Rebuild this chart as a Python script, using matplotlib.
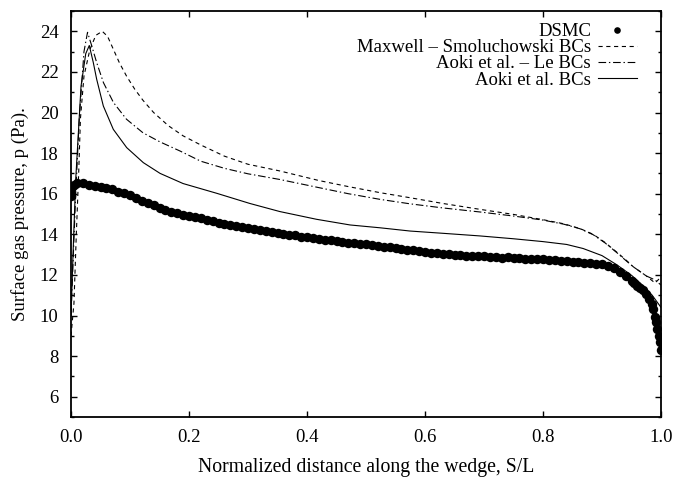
import numpy as np
import matplotlib
matplotlib.use("Agg")
import matplotlib.pyplot as plt
from matplotlib.ticker import MultipleLocator

plt.rcParams['font.family'] = ['Liberation Serif', 'DejaVu Serif']
plt.rcParams['lines.scale_dashes'] = False
fs = 13.5

# DSMC surface pressure
dsmc_x = np.concatenate([[0.0, 0.0, 0.0, 0.002, 0.005],
                         np.round(np.arange(1, 96) * 0.01, 2),
                         [0.955, 0.96, 0.965, 0.97, 0.975, 0.98, 0.984, 0.987,
                          0.99, 0.992, 0.994, 0.996, 0.998, 1.0]])
dsmc_p = [16.3, 16.0, 15.9, 16.35, 16.45,
          16.55, 16.52, 16.44, 16.40, 16.33, 16.28, 16.21, 16.10, 16.04, 15.93,
          15.80, 15.66, 15.56, 15.42, 15.32, 15.22, 15.12, 15.06, 14.97, 14.91,
          14.84, 14.79, 14.70, 14.65, 14.56, 14.53, 14.45, 14.41, 14.34, 14.31,
          14.24, 14.22, 14.15, 14.12, 14.05, 14.03, 13.97, 13.95, 13.89, 13.87,
          13.81, 13.79, 13.74, 13.72, 13.66, 13.64, 13.59, 13.57, 13.52, 13.50,
          13.45, 13.43, 13.38, 13.36, 13.31, 13.28, 13.23, 13.21, 13.16, 13.14,
          13.09, 13.08, 13.04, 13.03, 12.99, 12.99, 12.95, 12.95, 12.92, 12.92,
          12.89, 12.89, 12.85, 12.86, 12.82, 12.83, 12.79, 12.80, 12.76, 12.77,
          12.73, 12.73, 12.70, 12.70, 12.66, 12.66, 12.61, 12.61, 12.56, 12.54,
          12.45, 12.32, 12.15, 11.95, 11.72,
          11.58, 11.45, 11.36, 11.27, 11.07, 10.82, 10.56, 10.30,
          9.95, 9.70, 9.35, 9.00, 8.70, 8.30]

# Maxwell - Smoluchowski BCs
mx_x = [0.0, 0.005, 0.009, 0.013, 0.016, 0.022, 0.032, 0.042, 0.053, 0.062,
        0.072, 0.082, 0.094, 0.108, 0.122, 0.14, 0.165, 0.19, 0.22, 0.26,
        0.30, 0.354, 0.42, 0.47, 0.524, 0.575, 0.63, 0.693, 0.75, 0.80,
        0.835, 0.863, 0.885, 0.905, 0.925, 0.94, 0.953, 0.975, 0.99, 1.0]
mx_p = [9.0, 10.6, 14.0, 17.0, 19.7, 21.8, 23.1, 23.8, 24.0, 23.75,
        23.1, 22.45, 21.8, 21.15, 20.6, 20.0, 19.35, 18.85, 18.4, 17.85,
        17.45, 17.12, 16.65, 16.35, 16.05, 15.8, 15.52, 15.23, 14.98, 14.72,
        14.52, 14.28, 14.0, 13.6, 13.12, 12.75, 12.4, 11.95, 11.6, 11.9]

# Aoki et al. - Le BCs
al_x = [0.0, 0.004, 0.008, 0.014, 0.022, 0.028, 0.035, 0.0435, 0.055, 0.072,
        0.094, 0.122, 0.151, 0.185, 0.22, 0.26, 0.30, 0.354, 0.42, 0.47,
        0.524, 0.575, 0.63, 0.693, 0.75, 0.80, 0.835, 0.863, 0.885, 0.905,
        0.925, 0.94, 0.953, 0.975, 0.99, 1.0]
al_p = [10.0, 13.0, 16.0, 19.7, 23.0, 23.95, 23.3, 22.46, 21.47, 20.49,
        19.67, 19.0, 18.55, 18.1, 17.6, 17.25, 16.98, 16.7, 16.3, 16.0,
        15.72, 15.5, 15.3, 15.1, 14.9, 14.7, 14.5, 14.27, 13.98, 13.58,
        13.1, 12.72, 12.4, 11.95, 11.75, 11.5]

# Aoki et al. BCs
ak_x = [0.0, 0.004, 0.008, 0.017, 0.025, 0.031, 0.0378, 0.0435, 0.0548, 0.0717,
        0.0944, 0.1226, 0.151, 0.19, 0.247, 0.303, 0.354, 0.416, 0.473, 0.524,
        0.575, 0.63, 0.693, 0.75, 0.80, 0.84, 0.868, 0.90, 0.925, 0.95,
        0.964, 0.985, 1.0]
ak_p = [10.0, 13.5, 16.7, 21.3, 22.9, 23.3, 22.46, 21.64, 20.32, 19.17,
        18.27, 17.53, 17.0, 16.5, 16.02, 15.52, 15.12, 14.74, 14.46, 14.32,
        14.16, 14.05, 13.92, 13.78, 13.64, 13.5, 13.3, 12.95, 12.5, 11.98,
        11.62, 11.0, 10.4]

fig = plt.figure(figsize=(6.77, 4.79), dpi=100)
ax = fig.add_axes([71 / 677, 62 / 479, 590 / 677, 406 / 479])

ax.plot(dsmc_x, dsmc_p, 'o', color='black', markersize=6.8, markeredgewidth=0,
        label='DSMC', zorder=3)
ax.plot(mx_x, mx_p, color='black', lw=0.8, linestyle=(0, (3.0, 2.6)),
        label='Maxwell \u2013 Smoluchowski BCs')
ax.plot(al_x, al_p, color='black', lw=0.8, linestyle=(0, (5.5, 2.0, 1.0, 2.0)),
        label='Aoki et al. \u2013 Le BCs')
ax.plot(ak_x, ak_p, color='black', lw=0.8, linestyle='-',
        label='Aoki et al. BCs')

ax.set_xlim(0, 1)
ax.set_ylim(5, 25)
ax.xaxis.set_major_locator(MultipleLocator(0.2))
ax.yaxis.set_minor_locator(MultipleLocator(1))
ax.set_yticks(np.arange(6, 25, 2))
ax.xaxis.set_major_formatter(plt.FuncFormatter(lambda v, p: '%.1f' % v))
ax.tick_params(which='both', direction='in', top=True, right=True,
               labelsize=fs, width=1.0)
ax.tick_params(which='major', length=4.5, pad=9)
ax.tick_params(which='minor', length=2.2)
for s in ax.spines.values():
    s.set_linewidth(1.3)

ax.set_xlabel('Normalized distance along the wedge, S/L', fontsize=14.2, labelpad=8)
ax.set_ylabel('Surface gas pressure, p (Pa).', fontsize=fs, labelpad=8)

leg = ax.legend(loc='upper right', bbox_to_anchor=(1 - 24 / 590, 1 - 12 / 406),
                frameon=False, markerfirst=False, fontsize=fs, handlelength=2.1,
                handletextpad=0.35, labelspacing=-0.05, borderpad=0,
                borderaxespad=0, numpoints=1, markerscale=0.7)

fig.savefig('out.png', dpi=100)
